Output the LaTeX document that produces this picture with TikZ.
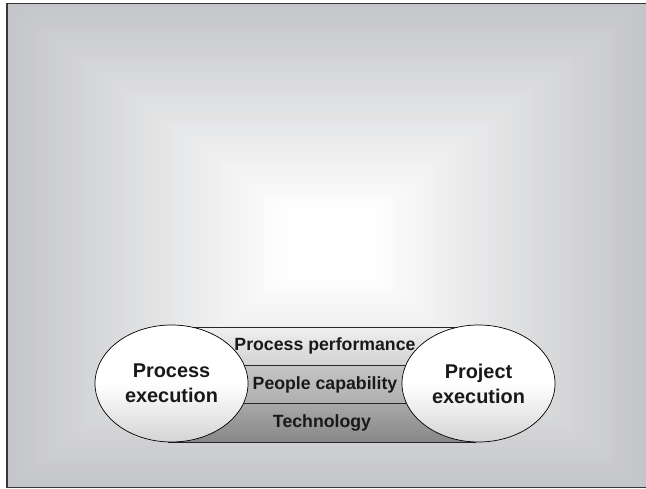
\documentclass[tikz,border=0pt]{standalone}
\usepackage{fontspec}
\setmainfont{Liberation Sans}
\usetikzlibrary{shapes.geometric}
\definecolor{bggray}{RGB}{196,197,200}
\definecolor{framec}{RGB}{55,55,55}
\definecolor{topA}{RGB}{240,240,240}
\definecolor{topB}{RGB}{210,210,210}
\definecolor{midA}{RGB}{196,196,196}
\definecolor{midB}{RGB}{176,176,176}
\definecolor{botA}{RGB}{168,168,168}
\definecolor{botB}{RGB}{136,136,136}
\definecolor{ellB}{RGB}{212,212,212}
\tikzset{
  strip/.style={draw=black!85, line width=0.7pt, minimum width=307pt, minimum height=38.33pt, inner sep=0pt, font=\fontsize{17.7}{20}\selectfont\bfseries, text=black!90},
  circ/.style={ellipse, draw=black, line width=0.7pt, minimum width=153pt, minimum height=117pt, inner sep=0pt, align=center, top color=white, bottom color=ellB, middle color=white, font=\fontsize{19.9}{25}\selectfont\bfseries, text=black!90},
  frameline/.style={draw=framec, line width=1.6pt}
}
\begin{document}
\begin{tikzpicture}[x=1pt, y=-1pt]
\useasboundingbox (0,0) rectangle (646,489);
% background rectangular gradient
\foreach \i in {0,...,59}{
  \pgfmathsetmacro{\t}{\i/60}
  \pgfmathsetmacro{\p}{max(0,100-\i*100/52)}
  \fill[bggray!\p!white] ({7+323*\t},{3.5+239.5*\t}) rectangle ({646-316*\t},{487.5-244.5*\t});
}
% band strips
\node[strip, top color=topA, bottom color=topB] (s1) at (325,346.2) {Process performance};
\node[strip, top color=midA, bottom color=midB] (s2) at (325,384.5) {People capability};
\node[strip, top color=botA, bottom color=botB] (s3) at (322,422.8) {Technology};
% ellipses
\node[circ] (pe) at (171.5,383.5) {Process\\execution};
\node[circ] (pj) at (478.5,383.5) {Project\\execution};
% frame
\coordinate (tl) at (7,3.5);
\coordinate (tr) at (646,3.5);
\coordinate (bl) at (7,487.5);
\coordinate (br) at (646,487.5);
\draw[frameline] (tr) -- (tl) -- (bl) -- (br);
\end{tikzpicture}
\end{document}
